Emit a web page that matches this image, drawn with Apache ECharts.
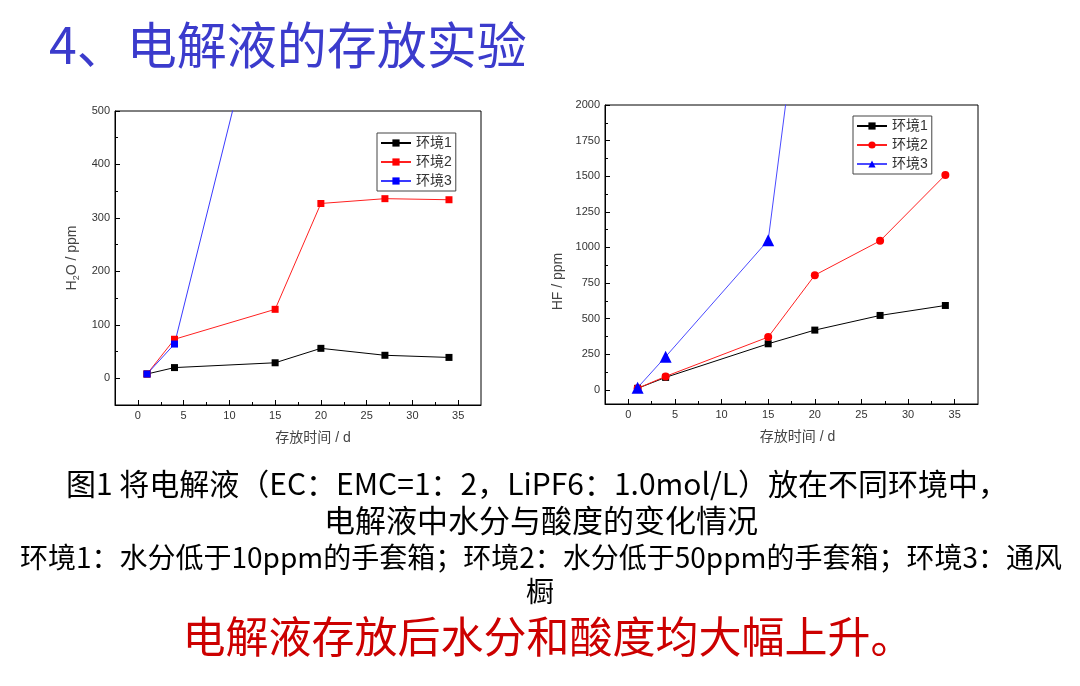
<!DOCTYPE html>
<html>
<head>
<meta charset="utf-8">
<script src="https://cdn.jsdelivr.net/npm/echarts@6/dist/echarts.min.js"></script>
<style>
  html, body { margin: 0; padding: 0; background: #fff; }
  .layer { position: absolute; left: 0; top: 0; width: 1080px; height: 686px; }
</style>
</head>
<body>
<div id="chart_left" class="layer"></div>
<div id="chart_right" class="layer"></div>
<script>
// 存放天数
var days = [1, 4, 15, 20, 27, 34];
var daysEnv3H2O = [1, 4, 15];
var daysEnv3HF = [1, 4, 15, 20];

// H2O / ppm
var h2oEnv1 = [8, 20, 29, 56, 43, 39];
var h2oEnv2 = [8, 73, 129, 327, 336, 334];
var h2oEnv3 = [8, 64, 820];

// HF / ppm
var hfEnv1 = [10, 87, 323, 419, 522, 592];
var hfEnv2 = [10, 94, 370, 805, 1046, 1509];
var hfEnv3 = [15, 232, 1050, 3600];

// 刻度
var xMajor = [0, 5, 10, 15, 20, 25, 30, 35];
var xMinor = [2.5, 7.5, 12.5, 17.5, 22.5, 27.5, 32.5];
var h2oMajor = [0, 100, 200, 300, 400, 500];
var h2oMinor = [50, 150, 250, 350, 450];
var hfMajor = [0, 250, 500, 750, 1000, 1250, 1500, 1750, 2000];
var hfMinor = [125, 375, 625, 875, 1125, 1375, 1625, 1875];

var legendNames = ['环境1', '环境2', '环境3'];

var pairs = function (xs, ys) {
    var res = [];
    for (var i = 0; i < ys.length; i++) {
        res.push([xs[i], ys[i]]);
    }
    return res;
};

var labelFont = { color: '#333', fontSize: 11, fontFamily: 'Liberation Sans, Arial, sans-serif' };

// 主刻度轴 + 次刻度轴
function makeAxes(dim, min, max, major, minor, name, nameGap, namePad, rich) {
    var pos = dim === 'x' ? 'bottom' : 'left';
    var main = {
        type: 'value',
        position: pos,
        min: min,
        max: max,
        name: name,
        nameLocation: 'middle',
        nameGap: nameGap,
        nameTextStyle: {
            color: '#444',
            fontSize: 14,
            fontFamily: 'Liberation Sans, Noto Sans CJK SC, sans-serif',
            padding: namePad,
            rich: rich
        },
        axisLine: { show: true, onZero: false, lineStyle: { color: '#000', width: 1 } },
        axisTick: { show: true, inside: true, length: 5, customValues: major, lineStyle: { color: '#000' } },
        axisLabel: Object.assign({
            margin: 5,
            customValues: major,
            formatter: function (v) { return String(v); }
        }, labelFont),
        splitLine: { show: false }
    };
    var sub = {
        type: 'value',
        position: pos,
        min: min,
        max: max,
        axisLine: { show: false, onZero: false },
        axisTick: { show: true, inside: true, length: 3, customValues: minor, lineStyle: { color: '#000' } },
        axisLabel: { show: false },
        splitLine: { show: false }
    };
    return [main, sub];
}

function lineSeries(name, data, color, lineColor, symbol, size) {
    return {
        name: name,
        type: 'line',
        data: data,
        symbol: symbol,
        symbolSize: size,
        showAllSymbol: true,
        clip: true,
        animation: false,
        lineStyle: { color: lineColor, width: 1 },
        itemStyle: { color: color }
    };
}

function legendOpt(left, top) {
    return {
        data: legendNames,
        orient: 'vertical',
        left: left,
        top: top,
        itemWidth: 30,
        itemHeight: 9,
        itemGap: 5,
        padding: [3, 4, 3, 3],
        borderColor: '#444',
        borderWidth: 1,
        textStyle: { color: '#333', fontSize: 14, lineHeight: 14, fontFamily: 'Liberation Sans, Noto Sans CJK SC, sans-serif' }
    };
}

// 左图：H2O + 页面文字
var chart_left = echarts.init(document.getElementById('chart_left'));
var leftX = makeAxes('x', -2.5, 37.5, xMajor, xMinor, '存放时间 / d', 26, [0, 0, 0, 30]);
var leftY = makeAxes('y', -50, 500, h2oMajor, h2oMinor, 'H{sub|2}O / ppm', 34, 0,
    { sub: { fontSize: 9, color: '#444', verticalAlign: 'bottom', padding: [8, 0, 0, 0] } });

var textCommon = { fontFamily: 'Noto Sans CJK SC, sans-serif', align: 'center', verticalAlign: 'middle' };

var chart_left_option = {
    backgroundColor: 'transparent',
    animation: false,
    grid: { left: 115, top: 111, right: 599, bottom: 281, show: true, borderColor: '#000', borderWidth: 1 },
    xAxis: leftX,
    yAxis: leftY,
    legend: legendOpt(377, 133),
    series: [
        lineSeries('环境1', pairs(days, h2oEnv1), '#000', '#000', 'rect', 7),
        lineSeries('环境2', pairs(days, h2oEnv2), '#ff0000', '#ff2020', 'rect', 7),
        lineSeries('环境3', pairs(daysEnv3H2O, h2oEnv3), '#0000ff', '#3a3aff', 'rect', 7)
    ],
    graphic: [
        { type: 'text', left: 49, top: 20, style: { text: '4、电解液的存放实验', fill: '#3b3bcc', fontSize: 50, fontFamily: 'Noto Sans CJK SC, sans-serif' } },
        { type: 'text', x: 537, y: 484, style: Object.assign({ text: '图1 将电解液（EC：EMC=1：2，LiPF6：1.0mol/L）放在不同环境中，', fill: '#000', fontSize: 30 }, textCommon) },
        { type: 'text', x: 541, y: 520, style: Object.assign({ text: '电解液中水分与酸度的变化情况', fill: '#000', fontSize: 31 }, textCommon) },
        { type: 'text', x: 541, y: 557, style: Object.assign({ text: '环境1：水分低于10ppm的手套箱；环境2：水分低于50ppm的手套箱；环境3：通风', fill: '#000', fontSize: 28 }, textCommon) },
        { type: 'text', x: 540, y: 591, style: Object.assign({ text: '橱', fill: '#000', fontSize: 28 }, textCommon) },
        { type: 'text', x: 548, y: 637, style: Object.assign({ text: '电解液存放后水分和酸度均大幅上升。', fill: '#cc0000', fontSize: 43 }, textCommon) }
    ]
};
chart_left.setOption(chart_left_option);

// 右图：HF
var chart_right = echarts.init(document.getElementById('chart_right'));
var rightX = makeAxes('x', -2.5, 37.5, xMajor, xMinor, '存放时间 / d', 26, [0, 0, 0, 12]);
var rightY = makeAxes('y', -100, 2000, hfMajor, hfMinor, 'HF / ppm', 40, [0, 54, 0, 0]);

var chart_right_option = {
    backgroundColor: 'transparent',
    animation: false,
    grid: { left: 605, top: 105, right: 102, bottom: 282, show: true, borderColor: '#000', borderWidth: 1 },
    xAxis: rightX,
    yAxis: rightY,
    legend: legendOpt(853, 116),
    series: [
        lineSeries('环境1', pairs(days, hfEnv1), '#000', '#000', 'rect', 7),
        lineSeries('环境2', pairs(days, hfEnv2), '#ff0000', '#ff2020', 'circle', 8),
        lineSeries('环境3', pairs(daysEnv3HF, hfEnv3), '#0000ff', '#4a4aff', 'triangle', 12)
    ]
};
chart_right.setOption(chart_right_option);

window.addEventListener('resize', function () {
    chart_left.resize();
    chart_right.resize();
});
</script>
</body>
</html>
